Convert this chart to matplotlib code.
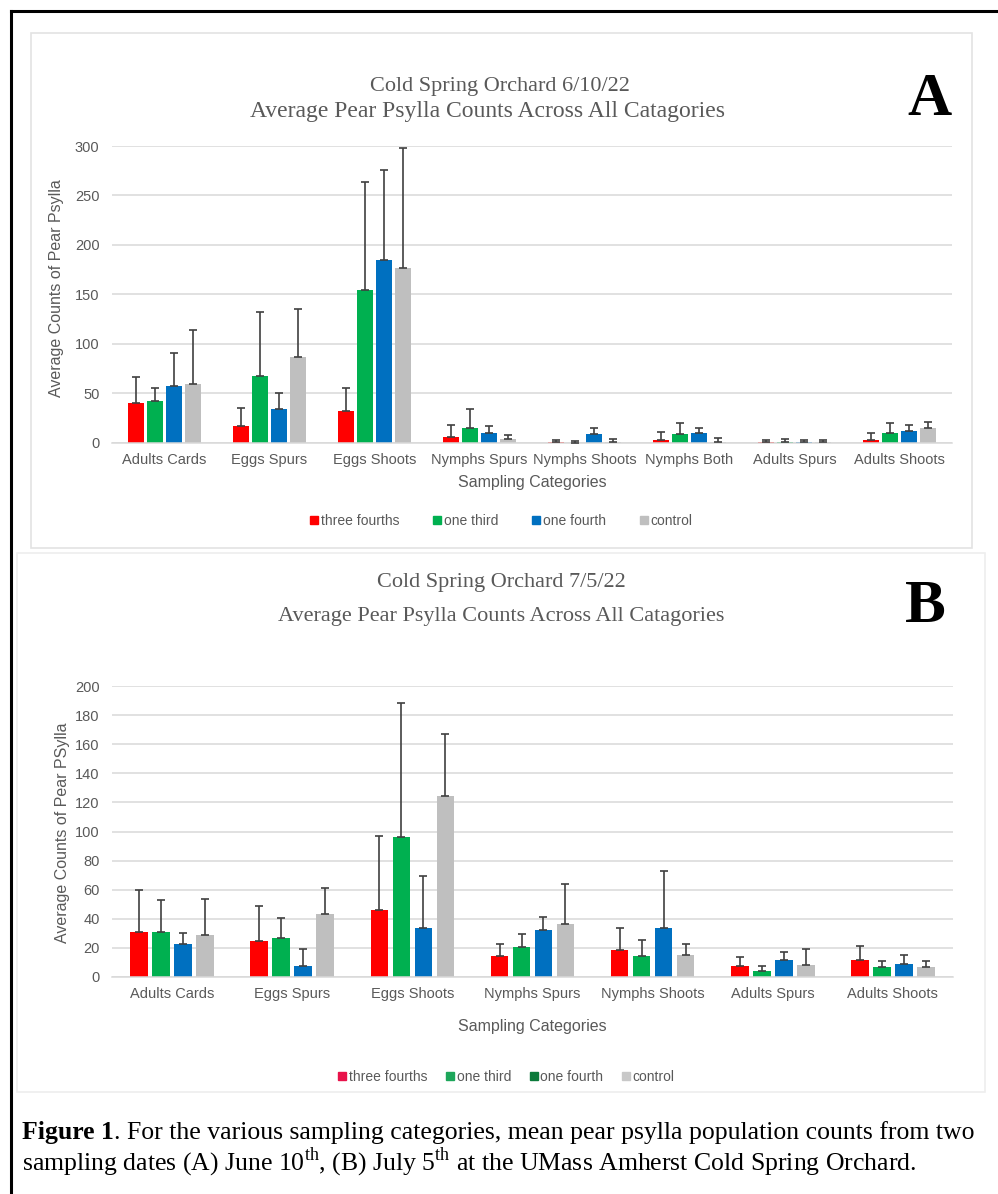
import matplotlib
matplotlib.use("Agg")
import matplotlib.pyplot as plt
import matplotlib.patches as mpatches
from matplotlib.lines import Line2D
import numpy as np

plt.rcParams['font.family'] = ['Liberation Sans', 'DejaVu Sans']
plt.rcParams['mathtext.fontset'] = 'custom'
plt.rcParams['mathtext.rm'] = 'Liberation Serif'

# ---- data -------------------------------------------------------------
treatments = ['three fourths', 'one third', 'one fourth', 'control']
colors = ['#FF0000', '#00B050', '#0070C0', '#BFBFBF']

cats_a = ['Adults Cards', 'Eggs Spurs', 'Eggs Shoots', 'Nymphs Spurs',
          'Nymphs Shoots', 'Nymphs Both', 'Adults Spurs', 'Adults Shoots']
# mean counts per treatment (rows) for each category (columns), 6/10/22
means_a = [
    [40, 17, 32, 6, 1, 3.5, 1, 3.5],
    [42, 68, 155, 15.5, 0.5, 9.5, 1.5, 10.5],
    [58, 34, 185, 10.5, 9.5, 10.5, 1, 12],
    [60, 87, 177, 4, 1, 1, 1, 15],
]
errs_a = [
    [27, 18, 24, 12, 2, 7.5, 2.5, 7],
    [14, 64, 109, 18.5, 1.5, 11, 3, 10],
    [33, 17, 91, 7, 5.5, 5, 2, 6.5],
    [54, 48, 121, 4, 3, 4, 2.5, 6],
]

cats_b = ['Adults Cards', 'Eggs Spurs', 'Eggs Shoots', 'Nymphs Spurs',
          'Nymphs Shoots', 'Adults Spurs', 'Adults Shoots']
# 7/5/22
means_b = [
    [30.7, 25, 45.8, 14.2, 18.8, 7.8, 11.9],
    [30.7, 26.5, 96.3, 20.6, 14.2, 4.3, 6.9],
    [22.7, 7.8, 34, 32.5, 33.6, 11.4, 8.7],
    [29, 43.2, 124.7, 36.6, 15.3, 8.5, 6.6],
]
errs_b = [
    [29, 23.7, 51, 8.7, 14.8, 5.9, 9.1],
    [22, 14.2, 91.7, 8.9, 11.4, 3, 4.3],
    [7.5, 11.4, 35.6, 8.5, 39.4, 5.5, 6.2],
    [24.3, 17.7, 42, 27.2, 7.6, 10.7, 4.6],
]
legend_colors_b = ['#E8124A', '#1DA65A', '#0B7A3A', '#C8C8C8']

W, H = 998, 1194
fig = plt.figure(figsize=(W / 100, H / 100), dpi=100)


def fx(x):
    return x / W


def fy(y):
    return 1 - y / H


GRAY = '#595959'

# outer black frame (only left and top edges fall inside the picture)
fig.add_artist(Line2D([fx(11), fx(11)], [fy(11), 0], transform=fig.transFigure, color='black', lw=2.2))
fig.add_artist(Line2D([fx(11), 1], [fy(11), fy(11)], transform=fig.transFigure, color='black', lw=2.2))
# light panel boxes
fig.patches.append(mpatches.Rectangle((fx(31), fy(548)), fx(972) - fx(31), fy(33) - fy(548),
                                      transform=fig.transFigure, fill=False, ec='#E3E3E3', lw=1.2))
fig.patches.append(mpatches.Rectangle((fx(17), fy(1092)), fx(985) - fx(17), fy(553) - fy(1092),
                                      transform=fig.transFigure, fill=False, ec='#EEEEEE', lw=1.2))


def draw_panel(rect, cats, means, errs, ymax, ystep, width, step, ylabel, ylab_xy,
               xlab_y, leg_y, leg_x, leg_colors, leg_gap):
    ax = fig.add_axes(rect)
    x = np.arange(len(cats))
    for i, (m, e) in enumerate(zip(means, errs)):
        pos = x + (i - 1.5) * step
        ax.bar(pos, m, width, color=colors[i], zorder=2)
        ax.errorbar(pos, m, yerr=[np.zeros(len(e)), e], fmt='none', ecolor='#404040',
                    elinewidth=1.2, capsize=3, capthick=1.2, zorder=3)
    ax.set_xlim(-0.5, len(cats) - 0.5)
    ax.set_ylim(0, ymax)
    ax.set_yticks(np.arange(0, ymax + 1, ystep))
    ax.set_xticks(x)
    ax.set_xticklabels(cats)
    ax.tick_params(axis='both', length=0, colors=GRAY, labelsize=10.5)
    ax.tick_params(axis='y', pad=9)
    ax.tick_params(axis='x', pad=7)
    ax.grid(axis='y', color='#D9D9D9', lw=1.1, zorder=0)
    ax.set_axisbelow(True)
    for s in ['top', 'right', 'left']:
        ax.spines[s].set_visible(False)
    ax.spines['bottom'].set_color('#D9D9D9')
    ax.spines['bottom'].set_linewidth(1.1)
    fig.text(fx(ylab_xy[0]), fy(ylab_xy[1]), ylabel, rotation=90, ha='center', va='center',
             fontsize=11.5, color=GRAY)
    fig.text(fx(532), fy(xlab_y), 'Sampling Categories', ha='center', va='center',
             fontsize=11.5, color=GRAY)
    handles = [Line2D([], [], marker='s', ls='none', color=c, markersize=6) for c in leg_colors]
    fig.legend(handles, treatments, loc='center', bbox_to_anchor=(fx(leg_x), fy(leg_y)),
               ncol=4, frameon=False, fontsize=10, handletextpad=0.0, columnspacing=leg_gap,
               handlelength=1.0, labelcolor=GRAY)
    return ax


# Panel A
draw_panel([fx(112), fy(443), fx(952) - fx(112), fy(146) - fy(443)], cats_a, means_a, errs_a,
           300, 50, 0.152, 0.18, 'Average Counts of Pear Psylla', (57, 288), 482, 521, 500, colors, 2.2)
fig.text(fx(500), fy(86), 'Cold Spring Orchard 6/10/22', ha='center', va='center',
         family='Liberation Serif', fontsize=16, color=GRAY)
fig.text(fx(488), fy(112), 'Average Pear Psylla Counts Across All Catagories', ha='center',
         va='center', family='Liberation Serif', fontsize=17, color=GRAY)
fig.text(fx(929), fy(100), 'A', ha='center', va='center', family='Liberation Serif',
         fontsize=44, fontweight='bold', color='black')

# Panel B
draw_panel([fx(112), fy(977), fx(953) - fx(112), fy(686) - fy(977)], cats_b, means_b, errs_b,
           200, 20, 0.146, 0.183, 'Average Counts of Pear PSylla', (63, 833), 1026, 1077, 505,
           legend_colors_b, 1.1)
fig.text(fx(501), fy(583), 'Cold Spring Orchard 7/5/22', ha='center', va='center',
         family='Liberation Serif', fontsize=16, color=GRAY)
fig.text(fx(501), fy(617), 'Average Pear Psylla Counts Across All Catagories', ha='center',
         va='center', family='Liberation Serif', fontsize=16, color=GRAY)
fig.text(fx(925), fy(607), 'B', ha='center', va='center', family='Liberation Serif',
         fontsize=44, fontweight='bold', color='black')

# Caption
cap_size = 18.5
t1 = fig.text(fx(22), fy(1133), 'Figure 1', ha='left', va='center', family='Liberation Serif',
              fontsize=cap_size, fontweight='bold', color='black')
fig.canvas.draw()
bb = t1.get_window_extent()
fig.text(bb.x1 / W, fy(1133), '. For the various sampling categories, mean pear psylla population counts from two',
         ha='left', va='center', family='Liberation Serif', fontsize=cap_size, color='black')
fig.text(fx(22), fy(1162),
         r'sampling dates (A) June 10$^{\mathrm{th}}$, (B) July 5$^{\mathrm{th}}$ at the UMass Amherst Cold Spring Orchard.',
         ha='left', va='center', family='Liberation Serif', fontsize=cap_size, color='black')

fig.savefig('out.png', dpi=100)
